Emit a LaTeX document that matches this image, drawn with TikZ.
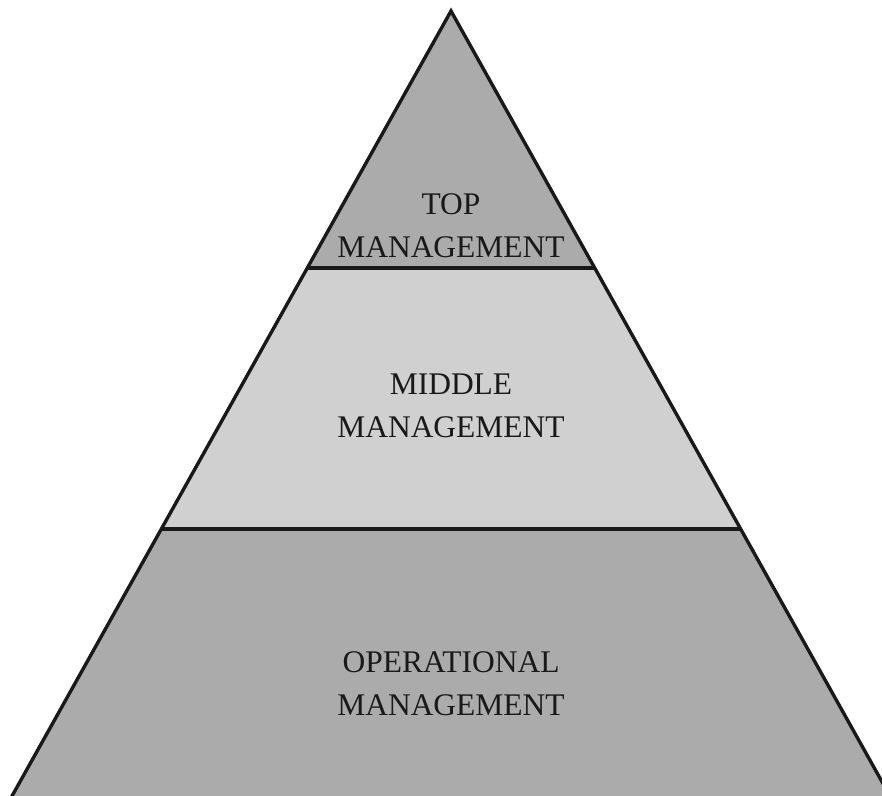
\documentclass[tikz,border=0pt]{standalone}
\usepackage{fontspec}
\setmainfont{Liberation Serif}
\begin{document}
\begin{tikzpicture}[x=1pt,y=-1pt,
  outline/.style={draw=black!90,line width=3.4pt,line join=miter},
  darkfill/.style={fill=black!33},
  lightfill/.style={fill=black!18.5},
  label/.style={align=center,font=\fontsize{31.5}{43}\selectfont,text=black!90,inner sep=0pt}]
\useasboundingbox (0,0) rectangle (882,795);
\clip (0,0) rectangle (882,795);
\coordinate (apex) at (451,11);
\coordinate (tl) at (307,268);
\coordinate (tr) at (595,268);
\coordinate (ml) at (161,529);
\coordinate (mr) at (741,529);
\coordinate (bl) at (7,805);
\coordinate (br) at (895,805);
\fill[darkfill] (apex) -- (tr) -- (tl) -- cycle;
\fill[lightfill] (tl) -- (tr) -- (mr) -- (ml) -- cycle;
\fill[darkfill] (ml) -- (mr) -- (br) -- (bl) -- cycle;
\draw[outline] (bl) -- (apex) -- (br);
\draw[outline] (tl) -- (tr);
\draw[outline] (ml) -- (mr);
\node[label] (top) at (451,226) {TOP\\MANAGEMENT};
\node[label] (mid) at (451,406) {MIDDLE\\MANAGEMENT};
\node[label] (ops) at (451,684) {OPERATIONAL\\MANAGEMENT};
\end{tikzpicture}
\end{document}
